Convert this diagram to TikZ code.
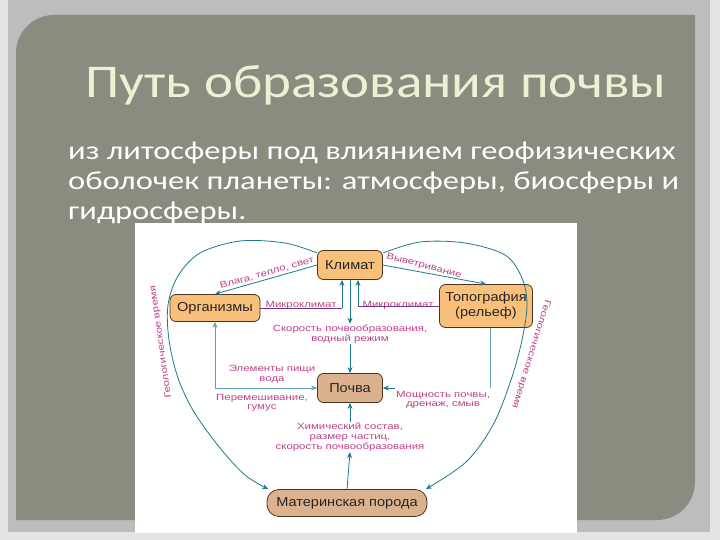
\documentclass[tikz,border=0pt]{standalone}
\usepackage{fontspec}
\usetikzlibrary{arrows.meta}
\newfontfamily\titlefont[FakeStretch=1.17]{Carlito}
\newfontfamily\bodyfont[FakeStretch=1.25]{Carlito}
\newfontfamily\nodefont[FakeStretch=1.12]{Liberation Sans}
\newfontfamily\lblfont[FakeStretch=1.27]{Liberation Sans}
\definecolor{outerbg}{HTML}{E4E4E4}
\definecolor{patgray}{HTML}{BDBDBD}
\definecolor{panelcol}{HTML}{8A8C80}
\definecolor{titlecol}{HTML}{EEF0D4}
\definecolor{orangefill}{HTML}{F8C07A}
\definecolor{tanfill}{HTML}{DCB18E}
\definecolor{boxborder}{HTML}{4A3522}
\definecolor{tealc}{HTML}{1C7A8C}
\definecolor{lblcol}{HTML}{C0408C}
\definecolor{purpl}{HTML}{6A3A8A}
\tikzset{
  box/.style={draw=boxborder, line width=0.8pt, rounded corners=6pt, fill=orangefill,
    font=\nodefont\fontsize{13}{14.5}\selectfont, inner sep=2pt, align=center, text=black!85},
  tanbox/.style={box, fill=tanfill},
  lbl/.style={font=\lblfont\fontsize{9}{9.6}\selectfont, text=lblcol, align=center, inner sep=1pt},
  arr/.style={draw=tealc, line width=0.8pt, -{Stealth[length=6pt,width=5pt]}},
  dblarr/.style={draw=tealc!70, line width=0.8pt, {Stealth[length=6pt,width=5pt]}-{Stealth[length=6pt,width=5pt]}},
  plainline/.style={draw=tealc!70, line width=0.7pt},
  purpline/.style={draw=purpl, line width=0.7pt},
  bodytext/.style={font=\bodyfont\fontsize{26}{30}\selectfont, text=white, anchor=base west, inner sep=0pt},
}
\begin{document}
\begin{tikzpicture}[x=1pt,y=-1pt]
\useasboundingbox (0,0) rectangle (720,540);
% background
\fill[outerbg] (0,0) rectangle (720,540);
\fill[patgray] (8,0) rectangle (710,532);
\fill[panelcol] (54,15) -- (695,15) -- (695,482) .. controls (695,503) and (678,520) .. (657,520)
  -- (16,520) -- (16,53) .. controls (16,32) and (33,15) .. (54,15) -- cycle;
% title and body
\node[font=\titlefont\fontsize{47}{52}\selectfont, text=titlecol, anchor=base, inner sep=0pt] (title) at (376,98) {Путь образования почвы};
\node[bodytext] (body1) at (68,160) {из литосферы под влиянием геофизических};
\node[bodytext] (body2) at (68,190) {оболочек планеты: атмосферы, биосферы и};
\node[bodytext] (body3) at (68,219) {гидросферы.};
% white picture area
\fill[white] (135,223) rectangle (577,533);
% nodes
\node[box, minimum width=65pt, minimum height=29pt] (klimat) at (350,265) {Климат};
\node[box, minimum width=90pt, minimum height=27pt] (org) at (215,308) {Организмы};
\node[box, minimum width=93pt, minimum height=43pt, font=\nodefont\fontsize{13}{15}\selectfont] (topo) at (486,306) {Топография\\(рельеф)};
\node[tanbox, minimum width=65pt, minimum height=29pt] (pochva) at (350,388) {Почва};
\node[tanbox, minimum width=160pt, minimum height=27pt, rounded corners=12pt] (mp) at (347,503) {Материнская порода};
% labels
\node[lbl, rotate=16] (vlaga) at (267,273) {Влага, тепло, свет};
\node[lbl, rotate=-15] (vyvetr) at (424,266) {Выветривание};
\node[lbl, anchor=base] (mkl1) at (301,307) {Микроклимат};
\node[lbl, anchor=base] (mkl2) at (398,307) {Микроклимат};
\node[lbl] (skor) at (350,334) {Скорость почвообразования,\\водный режим};
\node[lbl] (elem) at (272,374) {Элементы пищи\\вода};
\node[lbl] (perem) at (262,403) {Перемешивание,\\гумус};
\node[lbl] (mosh) at (443,400) {Мощность почвы,\\дренаж, смыв};
\node[lbl] (him) at (350,437) {Химический состав,\\размер частиц,\\скорость почвообразования};
\node[lbl, rotate=98] (geo1) at (161,342) {Геологическое время};
\node[lbl, rotate=-107] (geo2) at (531,354) {Геологическое время};
% coordinates
\coordinate (mk1) at ([xshift=-8pt]klimat.south |- org.east);
\coordinate (mk2) at ([xshift=8pt]klimat.south |- topo.west);
\coordinate (tpend) at ([xshift=4pt]topo.south |- pochva.east);
% connectors
\draw[arr] (klimat.west) -- (org.north);
\draw[arr] (klimat.east) -- (topo.north);
\draw[purpline] (org.east) -- (mk1);
\draw[arr] (mk1) -- ([xshift=-8pt]klimat.south);
\draw[purpline] (topo.west) -- (mk2);
\draw[arr] (mk2) -- ([xshift=8pt]klimat.south);
\draw[arr] (klimat.south) -- (skor.north);
\draw[arr] (skor.south) -- (pochva.north);
\draw[dblarr] (org.south) |- (pochva.west);
\draw[plainline] ([xshift=4pt]topo.south) -- (tpend);
\draw[arr] (mosh.west |- pochva.east) -- (pochva.east);
\draw[arr] (mp.north) -- (him.south);
\draw[arr] (him.north) -- (pochva.south);
\draw[arr] plot[smooth, tension=0.55] coordinates {(klimat.160) (285,243) (240,241) (200,253) (178,276) (168,305) (169,340) (178,378) (194,412) (220,448) (245,475) (mp.170)};
\draw[arr] plot[smooth, tension=0.55] coordinates {(klimat.20) (420,242) (465,243) (505,255) (522,278) (527,305) (522,340) (511,380) (493,425) (466,462) (mp.10)};
\end{tikzpicture}
\end{document}
